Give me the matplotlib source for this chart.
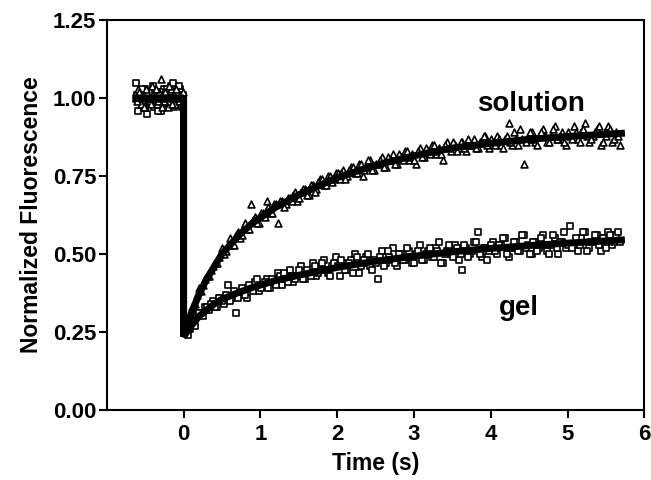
import numpy as np
import matplotlib
matplotlib.use('Agg')
import matplotlib.pyplot as plt

plt.rcParams['font.family'] = ['Liberation Sans', 'DejaVu Sans']
plt.rcParams['font.weight'] = 'bold'

# pre-bleach readings (both samples), two interleaved runs, 0.03 s steps
pre_t0, pre_t0_b, pre_dt = -0.62, -0.605, 0.03
pre_solution = [1.00, 1.03, 0.98, 1.01, 0.97, 1.02, 0.99, 1.04, 1.00, 0.98, 1.02,
                1.06, 0.99, 1.01, 0.97, 1.03, 1.00, 0.98, 1.02, 1.01, 0.99]
pre_solution_b = [0.99, 1.02, 1.00, 0.97, 1.03, 1.00, 0.98, 1.01, 1.03, 0.99, 1.00,
                  0.97, 1.02, 1.00, 1.04, 0.98, 1.01, 1.03, 0.99, 1.00, 1.02]
pre_gel = [1.05, 0.96, 1.01, 0.99, 1.03, 0.95, 1.00, 1.02, 0.97, 1.01, 0.99,
           0.96, 1.03, 1.00, 0.98, 1.04, 1.05, 0.98, 1.01, 1.03, 0.97]
pre_gel_b = [1.01, 0.99, 1.03, 0.97, 1.00, 1.02, 0.98, 1.04, 1.00, 0.96, 1.02,
             0.99, 1.01, 1.03, 0.98, 1.00, 0.97, 1.02, 1.04, 0.99, 1.01]

# recovery readings, two interleaved runs, 0.05 s steps
rec_t0, rec_t0_b, rec_dt = 0.03, 0.055, 0.05
solution = [.26, .30, .32, .37, .38, .42, .43, .46, .47, .50,
            .50, .53, .53, .56, .55, .59, .58, .66, .62, .60,
            .63, .67, .63, .66, .60, .67, .66, .68, .69, .67,
            .70, .71, .69, .72, .71, .74, .72, .75, .73, .76,
            .74, .77, .75, .78, .76, .79, .75, .78, .80, .77,
            .79, .81, .78, .80, .82, .79, .81, .83, .80, .82,
            .79, .84, .81, .83, .85, .82, .84, .80, .86, .83,
            .85, .84, .86, .83, .85, .87, .84, .86, .88, .84,
            .86, .88, .85, .87, .92, .85, .87, .90, .79, .87,
            .89, .86, .88, .90, .86, .88, .91, .87, .89, .85,
            .88, .91, .87, .89, .92, .86, .88, .90, .85, .89,
            .91, .86, .89, .85]
solution_b = [.28, .33, .34, .39, .40, .43, .45, .47, .49, .52,
              .51, .55, .53, .57, .56, .60, .58, .61, .60, .63,
              .62, .65, .63, .66, .67, .65, .68, .67, .70, .68,
              .71, .69, .72, .70, .73, .74, .72, .75, .74, .76,
              .76, .74, .77, .78, .76, .79, .77, .80, .77, .79,
              .80, .78, .81, .80, .79, .82, .80, .83, .81, .80,
              .83, .81, .84, .82, .85, .83, .82, .85, .84, .86,
              .83, .86, .84, .87, .85, .84, .86, .88, .85, .87,
              .85, .87, .84, .88, .86, .89, .85, .87, .86, .89,
              .87, .85, .89, .88, .86, .90, .87, .88, .86, .89,
              .87, .89, .86, .90, .88, .87, .89, .91, .86, .88,
              .90, .87, .88]
gel = [.25, .26, .29, .30, .31, .33, .32, .35, .33, .36,
       .34, .40, .36, .31, .37, .38, .36, .39, .41, .38,
       .40, .42, .39, .41, .44, .40, .42, .45, .41, .43,
       .46, .42, .44, .47, .43, .45, .48, .44, .46, .49,
       .43, .47, .45, .48, .50, .44, .47, .49, .46, .48,
       .42, .51, .47, .49, .52, .46, .50, .48, .51, .47,
       .50, .53, .48, .51, .49, .52, .54, .47, .51, .50,
       .53, .48, .45, .52, .50, .54, .57, .49, .52, .51,
       .54, .50, .53, .55, .49, .52, .54, .51, .56, .53,
       .50, .54, .52, .56, .51, .53, .55, .50, .54, .52,
       .59, .53, .51, .55, .57, .52, .54, .56, .51, .55,
       .57, .53, .56, .54]
gel_b = [.24, .28, .27, .31, .30, .33, .34, .33, .36, .35,
         .37, .35, .38, .36, .39, .37, .40, .38, .42, .39,
         .41, .39, .42, .40, .43, .44, .41, .43, .42, .45,
         .42, .45, .43, .46, .44, .47, .45, .43, .47, .46,
         .48, .45, .47, .44, .49, .46, .48, .50, .45, .47,
         .49, .46, .51, .48, .47, .50, .48, .52, .49, .47,
         .51, .48, .50, .52, .49, .51, .47, .50, .53, .49,
         .52, .50, .53, .49, .51, .54, .50, .52, .48, .53,
         .51, .53, .55, .50, .52, .54, .51, .56, .52, .50,
         .54, .51, .55, .53, .50, .56, .52, .54, .57, .53,
         .52, .55, .53, .57, .51, .54, .56, .53, .55, .52,
         .56, .54, .57]

# fitted curves
fit_t = [-0.62, 0.0, 0.0, 0.1, 0.2, 0.3, 0.4, 0.5, 0.7, 0.9, 1.2, 1.5, 2.0,
         2.5, 3.0, 3.5, 4.0, 4.5, 5.0, 5.7]
fit_solution = [1.0, 1.0, 0.235, 0.31, 0.37, 0.42, 0.46, 0.50, 0.555, 0.60, 0.65,
                0.69, 0.745, 0.785, 0.815, 0.84, 0.855, 0.868, 0.877, 0.887]
fit_gel = [1.0, 1.0, 0.235, 0.27, 0.30, 0.32, 0.34, 0.355, 0.375, 0.393, 0.415,
           0.432, 0.457, 0.477, 0.493, 0.507, 0.518, 0.527, 0.535, 0.545]

pre_t = pre_t0 + pre_dt * np.arange(len(pre_solution))
pre_t_b = pre_t0_b + pre_dt * np.arange(len(pre_solution_b))
rec_t = rec_t0 + rec_dt * np.arange(len(solution))
rec_t_b = rec_t0_b + rec_dt * np.arange(len(solution_b))

fig = plt.figure(figsize=(6.51, 4.8), dpi=100)
ax = fig.add_axes([0.164, 0.146, 0.826, 0.812])

mk = dict(facecolors='white', edgecolors='black', linewidths=1.2, s=24, zorder=3)
ax.scatter(pre_t, pre_gel, marker='s', **mk)
ax.scatter(pre_t_b, pre_gel_b, marker='s', **mk)
ax.scatter(pre_t, pre_solution, marker='^', **mk)
ax.scatter(pre_t_b, pre_solution_b, marker='^', **mk)
ax.scatter(rec_t, solution, marker='^', **mk)
ax.scatter(rec_t_b, solution_b, marker='^', **mk)
ax.scatter(rec_t, gel, marker='s', **mk)
ax.scatter(rec_t_b, gel_b, marker='s', **mk)

ax.plot(fit_t, fit_solution, color='black', lw=5, zorder=4, solid_joinstyle='bevel')
ax.plot(fit_t, fit_gel, color='black', lw=5, zorder=4, solid_joinstyle='bevel')

ax.text(4.52, 0.96, 'solution', fontsize=20, ha='center', va='baseline')
ax.text(4.36, 0.304, 'gel', fontsize=20, ha='center', va='baseline')

ax.set_xlim(-1, 6)
ax.set_ylim(0, 1.25)
ax.set_xticks([0, 1, 2, 3, 4, 5, 6])
ax.set_yticks([0, 0.25, 0.5, 0.75, 1.0, 1.25])
ax.set_yticklabels(['0.00', '0.25', '0.50', '0.75', '1.00', '1.25'])
ax.tick_params(direction='out', length=6, width=1.5, labelsize=16)
ax.tick_params(axis='y', pad=1.5)
ax.tick_params(axis='x', pad=4)
for s in ax.spines.values():
    s.set_linewidth(1.5)
ax.set_xlabel('Time (s)', fontsize=16.5, fontweight='bold', labelpad=5)
ax.set_ylabel('Normalized Fluorescence', fontsize=16.5, fontweight='bold', labelpad=7)

fig.savefig('out.png', dpi=100)
